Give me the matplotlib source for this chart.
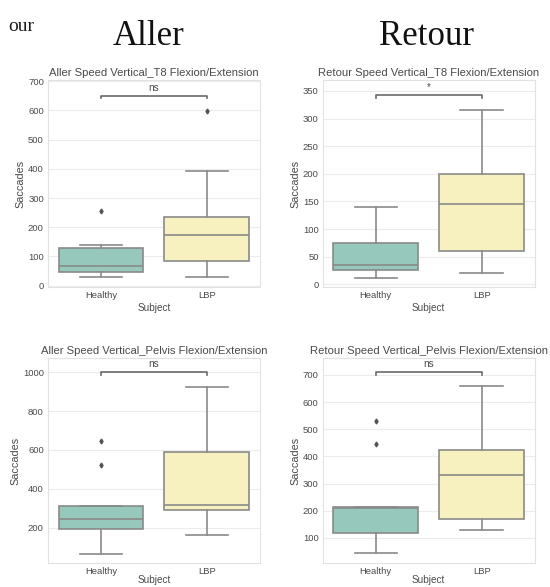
import numpy as np
import matplotlib.pyplot as plt

# Subplot data (box summary values)
groups = ["Healthy", "LBP"]
titles = ["Aller Speed Vertical_T8 Flexion/Extension",
          "Retour Speed Vertical_T8 Flexion/Extension",
          "Aller Speed Vertical_Pelvis Flexion/Extension",
          "Retour Speed Vertical_Pelvis Flexion/Extension"]

# per panel: [Healthy, LBP]
q1 = [[48, 83], [25, 60], [195, 290], [118, 170]]
med = [[68, 172], [35, 146], [248, 320], [210, 332]]
q3 = [[128, 235], [75, 200], [312, 592], [215, 425]]
whislo = [[30, 30], [12, 20], [65, 165], [45, 130]]
whishi = [[138, 392], [140, 316], [312, 925], [215, 658]]
fliers = [[[255], [597]], [[], []], [[525, 645], []], [[445, 530], []]]

sig_text = ["ns", "*", "ns", "ns"]
sig_y = [650, 342, 1000, 710]

yticks = [np.arange(0, 701, 100), np.arange(0, 351, 50),
          np.arange(200, 1001, 200), np.arange(100, 701, 100)]
ylims = [(-5, 705), (-5, 370), (20, 1072), (8, 762)]
ylabels = ["Saccades", "Saccades", "Saccades", "Saccades"]

colors = ["#97c8bc", "#f6f1bf"]
line_c = "#8a8a8a"
txt_c = "#4a4a4a"

fig = plt.figure(figsize=(5.5, 5.87), dpi=100)

positions = [(0.0873, 0.511, 0.385, 0.353),
             (0.587, 0.511, 0.385, 0.353),
             (0.0873, 0.041, 0.385, 0.349),
             (0.587, 0.041, 0.385, 0.349)]

for i, pos in enumerate(positions):
    ax = fig.add_axes(pos)
    stats = []
    for j, g in enumerate(groups):
        stats.append(dict(med=med[i][j], q1=q1[i][j], q3=q3[i][j],
                          whislo=whislo[i][j], whishi=whishi[i][j],
                          fliers=fliers[i][j], label=g))
    bp = ax.bxp(stats, positions=[0, 1], widths=0.8, patch_artist=True,
                boxprops=dict(edgecolor=line_c, linewidth=1.2),
                medianprops=dict(color=line_c, linewidth=1.2),
                whiskerprops=dict(color=line_c, linewidth=1.2),
                capprops=dict(color=line_c, linewidth=1.2),
                flierprops=dict(marker='d', markersize=2.5, markerfacecolor='#555555',
                                markeredgecolor='#555555'))
    for patch, c in zip(bp['boxes'], colors):
        patch.set_facecolor(c)

    ax.set_xlim(-0.5, 1.5)
    ax.set_ylim(*ylims[i])
    ax.set_yticks(yticks[i])
    ax.set_xticks([0, 1])
    ax.set_xticklabels(groups)
    ax.grid(True, axis='y', color='#ececec', linewidth=0.8)
    ax.set_axisbelow(True)
    for sp in ax.spines.values():
        sp.set_color('#e2e2e2')
        sp.set_linewidth(0.8)
    ax.tick_params(length=0, labelsize=6.8, labelcolor=txt_c, pad=3)
    ax.set_xlabel("Subject", fontsize=7.2, color=txt_c,
                  labelpad=2 if i < 2 else -0.5, family='Liberation Sans')
    ax.set_ylabel(ylabels[i], fontsize=7.8, color=txt_c, labelpad=2,
                  family='Liberation Sans')
    ax.set_title(titles[i], fontsize=8.1, color=txt_c, pad=3,
                 family='Liberation Sans')
    for lab in ax.get_xticklabels() + ax.get_yticklabels():
        lab.set_family('Liberation Sans')

    # significance bracket
    h = sig_y[i]
    d = (ylims[i][1] - ylims[i][0]) * 0.012
    ax.plot([0, 0, 1, 1], [h - d, h, h, h - d], color='#6a6a6a', linewidth=1.2)
    ax.text(0.5, h + d * 1.2, sig_text[i], ha='center', va='bottom',
            fontsize=7.2, color=txt_c, family='Liberation Sans')

fig.text(0.015, 0.955, "our", fontsize=14, family='Liberation Serif',
         ha='left', va='center', color='#1a1a1a')
fig.text(0.27, 0.937, "Aller", fontsize=25, family='Liberation Serif',
         ha='center', va='center', color='#111111')
fig.text(0.775, 0.937, "Retour", fontsize=25, family='Liberation Serif',
         ha='center', va='center', color='#111111')

fig.savefig("out.png", dpi=100)
